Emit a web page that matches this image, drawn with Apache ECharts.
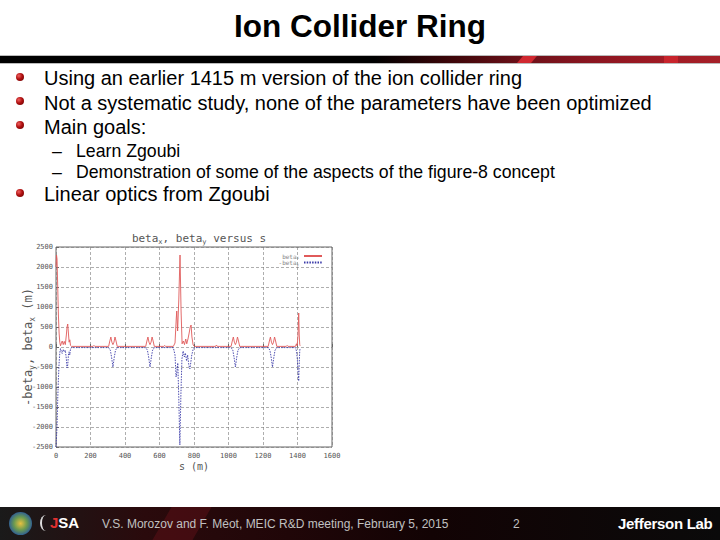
<!DOCTYPE html>
<html>
<head>
<meta charset="utf-8">
<script src="https://cdn.jsdelivr.net/npm/echarts@6/dist/echarts.min.js"></script>
<style>
html,body{margin:0;padding:0;background:#fff;}
#slide{position:relative;width:720px;height:540px;overflow:hidden;background:#fff;font-family:"Liberation Sans",Arial,sans-serif;}
#title{position:absolute;left:0;width:720px;top:8px;text-align:center;font-size:31.5px;font-weight:bold;color:#000;}
#hbar{position:absolute;left:0;top:55px;width:720px;height:7px;background:linear-gradient(90deg,#000 0%,#000 52%,#3a0508 62%,#6a1018 72%,#8a1520 82%,#a01a24 92%,#a52028 100%);border-top:1px solid #bbb;border-bottom:1px solid #bbb;}
.stripe{position:absolute;top:0;height:7px;background:#d02830;transform:skewX(-40deg);}
.b{position:absolute;left:44px;font-size:20px;color:#000;white-space:nowrap;}
.dot{position:absolute;left:16px;width:8px;height:8px;border-radius:50%;background:radial-gradient(circle at 35% 35%,#f06060 0%,#b01010 45%,#600000 100%);}
.s{position:absolute;left:76px;font-size:17.7px;color:#000;white-space:nowrap;}
.d{position:absolute;left:52px;font-size:17.7px;color:#000;}
#chart{position:absolute;left:0px;top:226px;width:350px;height:252px;}
#footer{position:absolute;left:0;top:507px;width:720px;height:33px;background:linear-gradient(90deg,#1a1a1a 0%,#2a0a0c 20%,#200608 40%,#120304 60%,#0a0a0a 100%);overflow:hidden;}
#ftext{position:absolute;left:102px;top:10px;font-size:12px;color:#c0c0c0;white-space:nowrap;}
#fnum{position:absolute;left:513px;top:10px;font-size:12px;color:#c0c0c0;}
#jlab{position:absolute;left:618px;top:8px;font-size:15px;font-weight:bold;color:#fff;white-space:nowrap;letter-spacing:-0.3px;}
</style>
</head>
<body>
<div id="slide">
  <div id="title">Ion Collider Ring</div>
  <div id="hbar"><div class="stripe" style="left:520px;width:14px;"></div><div class="stripe" style="left:664px;width:14px;transform:none;background:#c8242c;"></div></div>

  <div class="dot" style="top:73px;"></div><div class="b" style="top:67px;">Using an earlier 1415 m version of the ion collider ring</div>
  <div class="dot" style="top:97px;"></div><div class="b" style="top:92px;">Not a systematic study, none of the parameters have been optimized</div>
  <div class="dot" style="top:121px;"></div><div class="b" style="top:116px;">Main goals:</div>
  <div class="d" style="top:141px;">–</div><div class="s" style="top:141px;">Learn Zgoubi</div>
  <div class="d" style="top:162px;">–</div><div class="s" style="top:162px;">Demonstration of some of the aspects of the figure-8 concept</div>
  <div class="dot" style="top:189px;"></div><div class="b" style="top:183px;">Linear optics from Zgoubi</div>

  <div id="chart"></div>

  <div id="footer">
    <div style="position:absolute;left:160px;top:-10px;width:40px;height:60px;background:rgba(120,20,30,0.35);transform:skewX(-30deg);"></div>
    <div style="position:absolute;left:9px;top:5px;width:23px;height:23px;border-radius:50%;background:radial-gradient(circle at 50% 50%,#e8c040 0%,#6a9a50 40%,#2a5a9a 75%,#9ab0c8 100%);"></div>
    <div style="position:absolute;left:40px;top:8px;width:10px;height:16px;border-left:2px solid #ddd;border-radius:50% 0 0 50%;"></div>
    <div style="position:absolute;left:50px;top:7px;font-size:15px;font-weight:bold;color:#fff;white-space:nowrap;"><span style="color:#e03030">J</span>SA</div>
    <div id="ftext">V.S. Morozov and F. Méot, MEIC R&amp;D meeting, February 5, 2015</div>
    <div id="fnum">2</div>
    <div id="jlab">Jefferson Lab</div>
  </div>
</div>
<script>
// beta_x (red) sample positions and values
const sX = [0,3,6,10,14,18,22,26,30,36,42,48,54,60,64,68,72,76,80,84,90,
  215,220,225,
  305,312,318,324,330,336,342,348,355,
  520,527,533,539,545,551,557,563,570,
  625,630,635,
  680,690,697,700,705,712,719,725,731,738,745,752,758,765,772,778,783,788,795,802,
  925,930,935,
  1015,1022,1028,1034,1040,1046,1052,1058,1065,
  1230,1237,1243,1249,1255,1261,1267,1273,1280,
  1335,1340,1345,
  1388,1394,1398,1403,1407,1410,1413,1415];
const betaX = [2000,2300,2200,1500,800,350,120,30,80,150,60,140,60,300,500,575,350,120,180,40,15,
  15,40,15,
  15,150,250,120,60,120,250,150,15,
  15,150,250,120,60,120,250,150,15,
  15,40,15,
  15,100,700,900,400,1200,2300,900,80,150,60,200,80,200,350,500,550,250,50,15,
  15,50,15,
  15,150,250,120,60,120,250,150,15,
  15,150,250,120,60,120,250,150,15,
  15,40,15,
  15,80,30,300,850,300,60,30];
// -beta_y (blue) sample positions and values
const sY = [0,3,6,10,14,18,22,26,30,36,42,48,54,60,64,68,72,76,80,84,90,
  305,315,322,330,338,345,355,
  520,530,537,545,553,560,570,
  680,690,696,700,706,712,718,724,730,737,744,750,757,763,770,776,781,787,795,802,
  1015,1025,1032,1040,1048,1055,1065,
  1230,1240,1247,1255,1263,1270,1280,
  1388,1394,1399,1403,1407,1410,1413,1415];
const negBetaY = [-2500,-2500,-2000,-1300,-800,-400,-150,-40,-100,-160,-60,-120,-80,-300,-525,-450,-200,-120,-200,-50,-15,
  -15,-80,-250,-500,-250,-80,-15,
  -15,-80,-250,-500,-250,-80,-15,
  -15,-200,-750,-650,-400,-1300,-2450,-1200,-300,-100,-250,-150,-350,-200,-450,-550,-400,-200,-60,-15,
  -15,-80,-250,-500,-250,-80,-15,
  -15,-80,-250,-500,-250,-80,-15,
  -15,-100,-300,-600,-850,-400,-100,-30];
const xTicks = {min:0, max:1600, interval:200};
const yTicks = {min:-2500, max:2500, interval:500};

const chart = echarts.init(document.getElementById('chart'), null, {renderer:'svg'});
const mono = '"DejaVu Sans Mono", monospace';
const grey = '#555';
const plain = v => String(v);
chart.setOption({
  animation:false,
  backgroundColor:'#fff',
  title:{
    text:'beta{sub|x}, beta{sub|y} versus s',
    left:194, top:0, textAlign:'center',
    textStyle:{fontFamily:mono,fontSize:11,fontWeight:'normal',color:'#555',
      rich:{sub:{fontFamily:mono,fontSize:7,color:'#555',padding:[7,0,0,0]}}}
  },
  legend:{
    orient:'vertical', right:22, top:22, align:'right', itemWidth:18, itemHeight:3, itemGap:0,
    textStyle:{fontFamily:mono,fontSize:6,color:'#888',
      rich:{sub:{fontFamily:mono,fontSize:4,color:'#888',padding:[3,0,0,0]}}},
    formatter:function(n){return n==='bx'?'beta{sub|x}':'-beta{sub|y}';},
    data:[{name:'bx',itemStyle:{opacity:0}},{name:'by',itemStyle:{opacity:0}}]
  },
  grid:{left:56, top:21, width:276, height:200, outerBoundsMode:'none', containLabel:false,
        show:true, borderColor:'#666', borderWidth:1, backgroundColor:'#fff'},
  xAxis:{
    type:'value', min:xTicks.min, max:xTicks.max, interval:xTicks.interval,
    name:'s (m)', nameLocation:'middle', nameGap:14, nameMoveOverlap:false,
    nameTextStyle:{fontFamily:mono,fontSize:10,color:grey},
    axisLine:{show:false}, axisTick:{inside:true,length:3,lineStyle:{color:'#666'}},
    axisLabel:{fontFamily:mono,fontSize:7,color:grey,margin:5,formatter:plain},
    splitLine:{show:true,lineStyle:{color:'#777',type:[3,2],width:0.6}}
  },
  yAxis:{
    type:'value', min:yTicks.min, max:yTicks.max, interval:yTicks.interval,
    name:'-beta{sub|y}, beta{sub|x} (m)', nameLocation:'middle', nameGap:20, nameRotate:90, nameMoveOverlap:false,
    nameTextStyle:{fontFamily:mono,fontSize:12,color:grey,
      rich:{sub:{fontFamily:mono,fontSize:8,color:grey,padding:[8,0,0,0]}}},
    axisLine:{show:false}, axisTick:{inside:true,length:3,lineStyle:{color:'#666'}},
    axisLabel:{fontFamily:mono,fontSize:7,color:grey,margin:3,formatter:plain},
    splitLine:{show:true,lineStyle:{color:'#777',type:[3,2],width:0.6}}
  },
  series:[
    {name:'bx', type:'line', showSymbol:false, symbol:'none',
     data:sX.map((s,i)=>[s,betaX[i]]),
     lineStyle:{color:'#e05a5a',width:0.9}, itemStyle:{color:'#e05a5a'}},
    {name:'by', type:'line', showSymbol:false, symbol:'none',
     data:sY.map((s,i)=>[s,negBetaY[i]]),
     lineStyle:{color:'#3a3aa8',width:0.9,type:[1.5,1.2]}, itemStyle:{color:'#3a3aa8'}}
  ]
});
</script>
</body>
</html>
